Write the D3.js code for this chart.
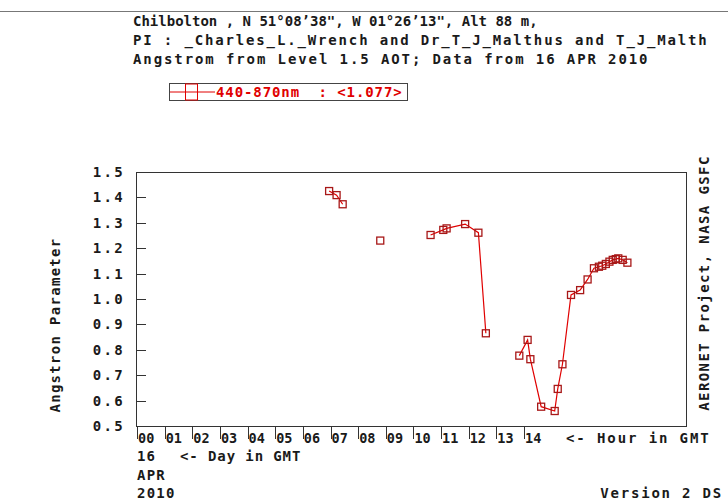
<!DOCTYPE html>
<html>
<head>
<meta charset="utf-8">
<script src="https://cdn.jsdelivr.net/npm/d3@7"></script>
<style>
  body { margin: 0; background: #fff; }
  text { font-family: "DejaVu Sans Mono", monospace; font-weight: bold; font-size: 14px; fill: #1a1a1a; white-space: pre; }
</style>
</head>
<body>
<svg id="chart" width="728" height="504"></svg>
<script>
'use strict';

// measurement times (hour GMT, 16 APR 2010) and angstrom exponent 440-870nm
var hours = [6.95, 7.22, 7.44, 8.80, 10.62, 11.08, 11.20, 11.87, 12.35, 12.62,
    13.83, 14.13, 14.23, 14.62, 15.11, 15.22, 15.39, 15.70, 16.03, 16.30,
    16.53, 16.71, 16.83, 16.96, 17.09, 17.21, 17.32, 17.41, 17.57, 17.74];
var angstrom = [1.425, 1.409, 1.373, 1.230, 1.252, 1.272, 1.278, 1.295, 1.261, 0.865,
    0.777, 0.839, 0.763, 0.576, 0.559, 0.646, 0.743, 1.016, 1.035, 1.077,
    1.121, 1.127, 1.131, 1.138, 1.147, 1.154, 1.157, 1.160, 1.154, 1.143];

var hourTicks = ["00", "01", "02", "03", "04", "05", "06", "07", "08", "09", "10", "11", "12", "13", "14"];
var yTicks = [0.5, 0.6, 0.7, 0.8, 0.9, 1.0, 1.1, 1.2, 1.3, 1.4, 1.5];
// second line is shown as far as the image edge, like the original plot
var titleLines = [
    "Chilbolton , N 51\u00b008\u201938\", W 01\u00b026\u201913\", Alt 88 m,",
    "PI : _Charles_L._Wrench and Dr_T_J_Malthus and T_J_Malth",
    "Angstrom from Level 1.5 AOT; Data from 16 APR 2010"
];
var titleSpacing = [0, 1.85, 1.9];
var legendLabel = "440-870nm  : <1.077>";

var svg = d3.select("#chart");
var plotL = 136, plotR = 686, plotT = 172, plotB = 426;

var x = d3.scaleLinear().domain([0, 19.86]).range([137, plotR]);
var y = d3.scaleLinear().domain([0.5, 1.5]).range([plotB, plotT]);

// page rule + header
svg.append("line").attr("x1", 0).attr("x2", 728).attr("y1", 11.5).attr("y2", 11.5)
    .style("stroke", "#777");

svg.selectAll("text.title")
    .data(titleLines)
    .enter()
    .append("text")
    .attr("class", "title")
    .attr("x", 133)
    .attr("y", function(d, i) { return 26 + i * 19; })
    .style("letter-spacing", function(d, i) { return titleSpacing[i] + "px"; })
    .text(function(d) { return d; });

// legend
var lg = svg.append("g");
lg.append("rect").attr("x", 169.5).attr("y", 83.5).attr("width", 238).attr("height", 17)
    .style("fill", "none").style("stroke", "#444");
lg.append("line").attr("x1", 170).attr("x2", 215).attr("y1", 92).attr("y2", 92)
    .style("stroke", "#e00000");
lg.append("rect").attr("x", 185.5).attr("y", 84).attr("width", 12).attr("height", 16)
    .style("fill", "none").style("stroke", "#e00000");
lg.append("text").attr("x", 216).attr("y", 97).style("fill", "#e00000")
    .style("letter-spacing", "0.9px").text(legendLabel);

// frame
svg.append("rect").attr("x", plotL + 0.5).attr("y", plotT + 0.5)
    .attr("width", plotR - plotL).attr("height", plotB - plotT)
    .style("fill", "none").style("stroke", "#333");

// y axis: ticks inside, labels outside
var yAxis = svg.append("g");
yAxis.selectAll("line")
    .data(yTicks.slice(1, -1))
    .enter()
    .append("line")
    .attr("x1", plotL)
    .attr("x2", plotL + 10)
    .attr("y1", function(d) { return Math.round(y(d)) + 0.5; })
    .attr("y2", function(d) { return Math.round(y(d)) + 0.5; })
    .style("stroke", "#333");
yAxis.selectAll("text")
    .data(yTicks)
    .enter()
    .append("text")
    .attr("x", 125)
    .attr("y", function(d) { return y(d) + 5; })
    .attr("text-anchor", "end")
    .style("letter-spacing", "2.3px")
    .text(function(d) { return d.toFixed(1); });

// x axis: hour ticks hanging below the frame
var xAxis = svg.append("g");
xAxis.selectAll("line")
    .data(hourTicks)
    .enter()
    .append("line")
    .attr("x1", function(d) { return Math.round(x(+d)) + 0.5; })
    .attr("x2", function(d) { return Math.round(x(+d)) + 0.5; })
    .attr("y1", plotB)
    .attr("y2", plotB + 13)
    .style("stroke", "#333");
xAxis.selectAll("text")
    .data(hourTicks)
    .enter()
    .append("text")
    .attr("x", function(d) { return x(+d) + 1; })
    .attr("y", 443)
    .style("font-size", "13.5px")
    .text(function(d) { return d; });

svg.append("text").attr("x", 566).attr("y", 443).style("letter-spacing", "1.9px").text("<- Hour in GMT");
svg.append("text").attr("x", 137).attr("y", 461).style("letter-spacing", "1px").text("16");
svg.append("text").attr("x", 180).attr("y", 461).style("letter-spacing", "0.9px").text("<- Day in GMT");
svg.append("text").attr("x", 137).attr("y", 480).style("letter-spacing", "1.2px").text("APR");
svg.append("text").attr("x", 137).attr("y", 498).style("letter-spacing", "1.2px").text("2010");
svg.append("text").attr("x", 723).attr("y", 498).attr("text-anchor", "end")
    .style("letter-spacing", "1.8px").text("Version 2 DS");

svg.append("text")
    .attr("transform", "translate(60,325) rotate(-90)")
    .attr("text-anchor", "middle")
    .style("letter-spacing", "1.3px")
    .text("Angstron Parameter");
svg.append("text")
    .attr("transform", "translate(709,283) rotate(-90)")
    .attr("text-anchor", "middle")
    .style("letter-spacing", "1.4px")
    .text("AERONET Project, NASA GSFC");

// data: line broken where there is more than an hour between samples
var points = hours.map(function(h, i) { return { h: h, v: angstrom[i] }; });
var segments = [];
points.forEach(function(p, i) {
    if (i === 0 || p.h - points[i - 1].h > 1) segments.push([]);
    segments[segments.length - 1].push(p);
});

var line = d3.line()
    .x(function(d) { return x(d.h); })
    .y(function(d) { return y(d.v); });

svg.selectAll("path.seg")
    .data(segments)
    .enter()
    .append("path")
    .attr("class", "seg")
    .attr("d", line)
    .style("fill", "none")
    .style("stroke", "#e00000")
    .style("stroke-width", 1.2);

svg.selectAll("rect.pt")
    .data(points)
    .enter()
    .append("rect")
    .attr("class", "pt")
    .attr("x", function(d) { return x(d.h) - 3.5; })
    .attr("y", function(d) { return y(d.v) - 3.5; })
    .attr("width", 7)
    .attr("height", 7)
    .style("fill", "none")
    .style("stroke", "#a81818")
    .style("stroke-width", 1.3);
</script>
</body>
</html>
